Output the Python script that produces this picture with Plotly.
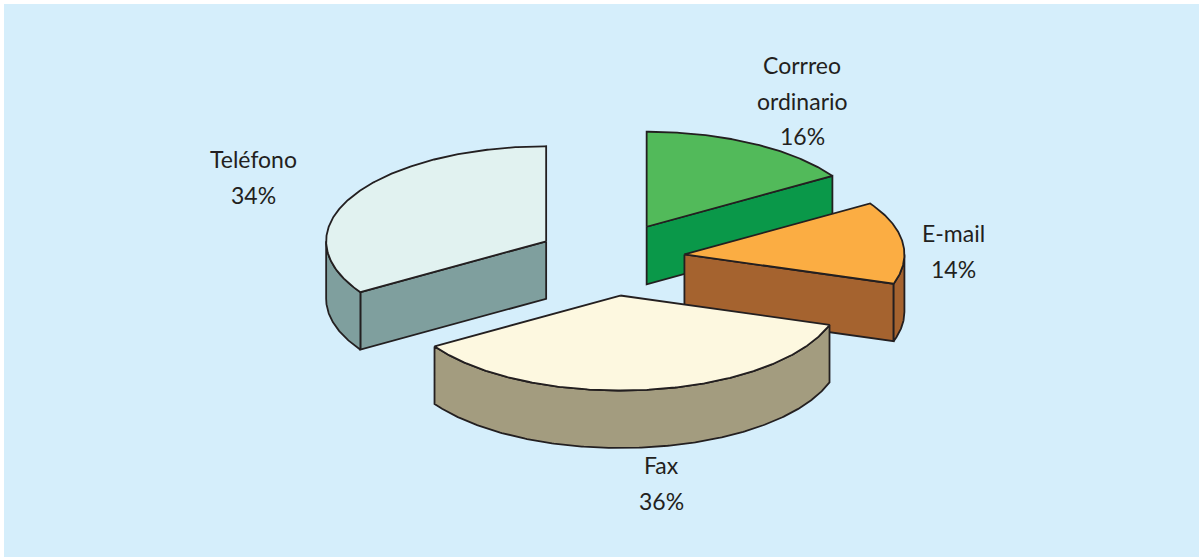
import numpy as np
import plotly.graph_objects as go

categories = ["Teléfono", "Fax", "E-mail", "Corrreo ordinario"]
values = [34, 36, 14, 16]
label_lines = [["Teléfono"], ["Fax"], ["E-mail"], ["Corrreo", "ordinario"]]
top_colors = ["#E1F2F0", "#FDF8E0", "#FBAD43", "#52BA5A"]
side_colors = ["#7F9F9E", "#A39C7F", "#A5632F", "#0A9849"]
label_centers = [(253, 159), (661, 465), (953, 233), (802, 65)]

W, H = 1199, 557
CX, CY = 611, 259
RX, RY = 220, 95
EX, EY = 74, 36.8
DEPTH = 57.5
START = 270.0
LINE_H = 35.5
INK = "#231F20"


def pt(apex, t, dz=0.0):
    r = np.radians(t)
    return apex[0] + RX * np.cos(r), apex[1] + RY * np.sin(r) + dz


def arc(apex, a, b, dz=0.0):
    n = max(2, int(abs(a - b) * 2) + 1)
    ts = np.linspace(a, b, n)
    return [pt(apex, t, dz) for t in ts]


def poly(points, color):
    xs = [p[0] for p in points] + [points[0][0]]
    ys = [p[1] for p in points] + [points[0][1]]
    return go.Scatter(
        x=xs, y=ys, mode="lines", fill="toself", fillcolor=color,
        line=dict(color=INK, width=1.8), hoverinfo="skip", showlegend=False,
    )


slices = []
a = START
total = sum(values)
for i, v in enumerate(values):
    sweep = 360.0 * v / total
    a0, a1 = a, a - sweep
    mid = np.radians((a0 + a1) / 2)
    apex = (CX + EX * np.cos(mid), CY + EY * np.sin(mid))
    slices.append(dict(i=i, a0=a0, a1=a1, apex=apex))
    a = a1

fig = go.Figure()
for s in sorted(slices, key=lambda q: q["apex"][1]):
    i, a0, a1, apex = s["i"], s["a0"], s["a1"], s["apex"]
    side = side_colors[i]
    for edge, visible in ((a0, np.cos(np.radians(a0)) > 1e-9),
                          (a1, np.cos(np.radians(a1)) < -1e-9)):
        if visible:
            e = pt(apex, edge)
            fig.add_trace(poly([apex, e, (e[0], e[1] + DEPTH), (apex[0], apex[1] + DEPTH)], side))
    # the part of the rim that faces the viewer, in either turn of the angle
    for shift in (0, 360, -360):
        lo, hi = max(a1 + shift, 0), min(a0 + shift, 180)
        if hi > lo:
            fig.add_trace(poly(arc(apex, hi, lo) + arc(apex, lo, hi, DEPTH), side))
    fig.add_trace(poly([apex] + arc(apex, a0, a1), top_colors[i]))

annotations = []
for lines, v, (x, y) in zip(label_lines, values, label_centers):
    for k, txt in enumerate(lines + [f"{v}%"]):
        annotations.append(dict(
            x=x, y=y + k * LINE_H, xref="x", yref="y", text=txt, showarrow=False,
            xanchor="center", yanchor="middle",
            font=dict(family="Lato", size=23, color=INK),
        ))

fig.update_layout(
    width=W, height=H, margin=dict(l=0, r=0, t=0, b=0),
    paper_bgcolor="white", plot_bgcolor="white",
    xaxis=dict(range=[0, W], visible=False, fixedrange=True),
    yaxis=dict(range=[H, 0], visible=False, fixedrange=True),
    showlegend=False, annotations=annotations,
    shapes=[dict(type="rect", xref="x", yref="y", x0=4, y0=4, x1=W, y1=H,
                 fillcolor="#D5EEFB", line_width=0, layer="below")],
)
fig.write_html("out.html", config={"displayModeBar": False},
               post_script="document.body.style.margin='0';document.documentElement.style.overflow='hidden';")
